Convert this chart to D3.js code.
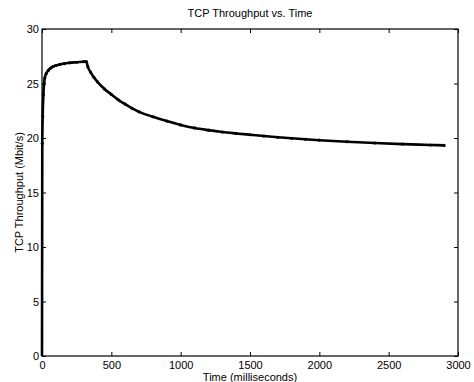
<!DOCTYPE html>
<html>
<head>
<meta charset="utf-8">
<script src="https://cdn.jsdelivr.net/npm/d3@7"></script>
<style>
  body { margin: 0; background: #fff; }
  text { font-family: "Liberation Sans", Arial, sans-serif; fill: #000; }
</style>
</head>
<body>
<svg id="chart" width="474" height="382"></svg>
<script>
// time (ms) and throughput (Mbit/s)
var times = [0, 2, 5, 10, 15, 20, 30, 45, 60, 80, 100, 130, 160, 200, 250, 300, 320,
  330, 350, 375, 400, 450, 500, 550, 600, 650, 700, 800, 900, 1000, 1100, 1200, 1300,
  1400, 1500, 1600, 1700, 1800, 1900, 2000, 2200, 2400, 2600, 2800, 2900];
var throughput = [0, 19.5, 22, 24, 25, 25.5, 25.9, 26.2, 26.4, 26.55, 26.65, 26.75, 26.82, 26.9, 26.95, 27.0, 27.0,
  26.55, 26.05, 25.55, 25.15, 24.5, 24.0, 23.5, 23.1, 22.72, 22.4, 21.95, 21.55, 21.2, 20.92, 20.72, 20.55,
  20.42, 20.3, 20.18, 20.07, 19.97, 19.88, 19.8, 19.66, 19.54, 19.44, 19.36, 19.32];
var xTicks = [0, 500, 1000, 1500, 2000, 2500, 3000];
var yTicks = [0, 5, 10, 15, 20, 25, 30];

var data = times.map(function(t, i) { return { t: t, v: throughput[i] }; });

// plot box (window.top is reserved, so no "top" var)
var boxL = 42, boxR = 458, boxT = 29, boxB = 356;

var svg = d3.select("#chart");

var x = d3.scaleLinear().domain([0, 3000]).range([boxL, boxR]);
var y = d3.scaleLinear().domain([0, 30]).range([boxB, boxT]);

// data line + dot markers
var line = d3.line()
    .x(function(d) { return x(d.t); })
    .y(function(d) { return y(d.v); })
    .curve(d3.curveMonotoneX);

svg.append("path")
    .datum(data)
    .attr("d", line)
    .attr("fill", "none")
    .attr("stroke", "#000")
    .attr("stroke-width", 2.6);

svg.selectAll(".dot")
    .data(data.filter(function(d) { return d.t > 0; }))
    .enter().append("circle")
    .attr("cx", function(d) { return x(d.t); })
    .attr("cy", function(d) { return y(d.v); })
    .attr("r", 1.6)
    .attr("fill", "#000");

// axes, matlab style: ticks inward on all four sides
var tickLen = 4;

svg.append("g")
    .attr("transform", "translate(0," + boxB + ")")
    .call(d3.axisBottom(x).tickValues(xTicks).tickSize(-tickLen).tickPadding(5).tickFormat(d3.format("d")));
svg.append("g")
    .attr("transform", "translate(0," + boxT + ")")
    .call(d3.axisTop(x).tickValues(xTicks).tickSize(-tickLen).tickFormat(""));
svg.append("g")
    .attr("transform", "translate(" + boxL + ",0)")
    .call(d3.axisLeft(y).tickValues(yTicks).tickSize(-tickLen).tickPadding(3));
svg.append("g")
    .attr("transform", "translate(" + boxR + ",0)")
    .call(d3.axisRight(y).tickValues(yTicks).tickSize(-tickLen).tickFormat(""));

svg.selectAll(".domain").remove();
svg.selectAll(".tick line").attr("stroke", "#000");
svg.selectAll(".tick text").attr("fill", "#000").style("font-size", "11px").style("font-family", "Liberation Sans, Arial, sans-serif");

svg.append("rect")
    .attr("x", boxL).attr("y", boxT)
    .attr("width", boxR - boxL).attr("height", boxB - boxT)
    .attr("fill", "none")
    .attr("stroke", "#000")
    .attr("stroke-width", 1.2);

// labels
svg.append("text")
    .attr("x", (boxL + boxR) / 2).attr("y", 17)
    .attr("text-anchor", "middle")
    .style("font-size", "11px")
    .text("TCP Throughput vs. Time");

svg.append("text")
    .attr("x", (boxL + boxR) / 2).attr("y", 381)
    .attr("text-anchor", "middle")
    .style("font-size", "11px")
    .text("Time (milliseconds)");

svg.append("text")
    .attr("transform", "translate(23," + (boxT + boxB) / 2 + ") rotate(-90)")
    .attr("text-anchor", "middle")
    .style("font-size", "11px")
    .text("TCP Throughput (Mbit/s)");
</script>
</body>
</html>
